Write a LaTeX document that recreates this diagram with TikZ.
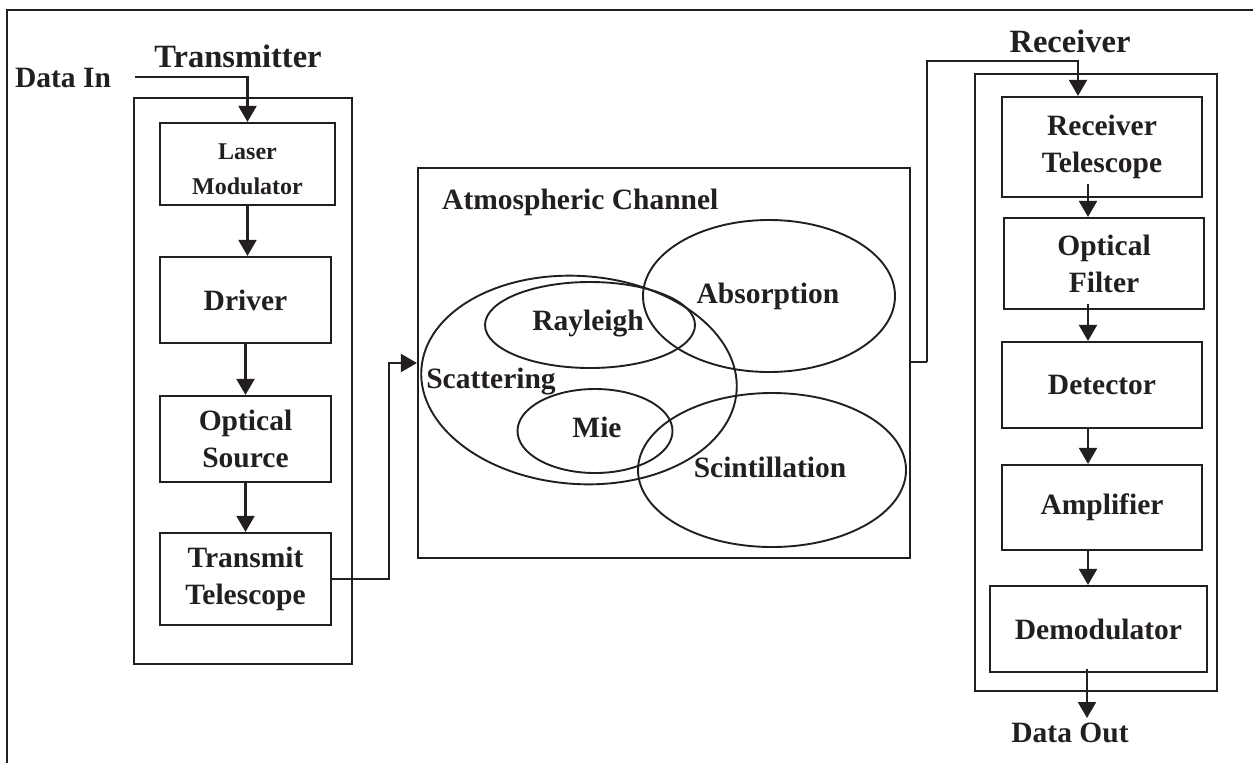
\documentclass[tikz,border=0pt]{standalone}
\usepackage{fontspec}
\setmainfont{Liberation Serif}
\usetikzlibrary{shapes.geometric,arrows.meta,calc}
\definecolor{ink}{RGB}{35,31,32}
\newcommand{\lblfont}{\fontsize{29.5}{37}\selectfont\bfseries}
\newcommand{\ttlfont}{\fontsize{32.5}{37}\selectfont\bfseries}
\newcommand{\smlfont}{\fontsize{24}{35}\selectfont\bfseries}
\begin{document}
\begin{tikzpicture}[x=1pt,y=-1pt,
  every node/.style={text=ink},
  blk/.style={draw=ink, line width=2.2pt, align=center, inner sep=0pt, font=\lblfont},
  grp/.style={draw=ink, line width=2.2pt, inner sep=0pt},
  elp/.style={draw=ink, line width=1.9pt, ellipse, inner sep=0pt},
  lbl/.style={font=\lblfont, anchor=base, inner sep=0pt},
  ttl/.style={font=\ttlfont, anchor=base, inner sep=0pt},
  wire/.style={draw=ink, line width=2.2pt},
  arr/.style={draw=ink, line width=2.2pt, -{Triangle[width=18pt,length=16pt]}}]
\useasboundingbox (0,0) rectangle (1253,763);
% outer frame (left and top edges visible)
\draw[wire] (7,763) -- (7,10) -- (1253,10);

% ---------- Transmitter ----------
\node[grp, minimum width=218pt, minimum height=566pt] (txg) at (243,381) {};
\node[ttl] (txt) at (238,67) {Transmitter};
\node[lbl] (din) at (63,87) {Data In};
\coordinate (dinw) at (135,77);
\node[blk, font=\smlfont, minimum width=175pt, minimum height=82pt] (laser) at (247.5,164) {};
\node[font=\smlfont, anchor=base, inner sep=0pt] (laser1) at (247.5,159) {Laser};
\node[font=\smlfont, anchor=base, inner sep=0pt] (laser2) at (247.5,194) {Modulator};
\node[blk, minimum width=171pt, minimum height=86pt] (drv) at (245.5,300) {Driver};
\node[blk, minimum width=171pt, minimum height=86pt] (src) at (245.5,439) {Optical\\Source};
\node[blk, minimum width=171pt, minimum height=92pt] (ttel) at (245.5,579) {Transmit\\Telescope};

\draw[arr] (dinw) -| (laser.north);
\draw[arr] (laser.south) -- (laser.south |- drv.north);
\draw[arr] (drv.south) -- (drv.south |- src.north);
\draw[arr] (src.south) -- (src.south |- ttel.north);

% ---------- Atmospheric channel ----------
\node[grp, minimum width=492pt, minimum height=390pt] (atm) at (664,363) {};
\node[lbl, anchor=base west] (atmt) at (442,209) {Atmospheric Channel};
\node[elp, minimum width=316pt, minimum height=208pt, rotate=-4] (scat) at (579,380) {};
\node[elp, minimum width=210pt, minimum height=86pt] (ray) at (590,325) {};
\node[elp, minimum width=155pt, minimum height=84pt] (mie) at (595,431) {};
\node[elp, minimum width=252pt, minimum height=152pt] (abs) at (769,296) {};
\node[elp, minimum width=268pt, minimum height=154pt] (scin) at (772,470) {};
\node[lbl] (absl) at (768,303) {Absorption};
\node[lbl] (rayl) at (588,330) {Rayleigh};
\node[lbl] (scatl) at (491,388) {Scattering};
\node[lbl] (miel) at (597,437) {Mie};
\node[lbl] (scinl) at (770,477) {Scintillation};

\coordinate (tx1) at (389,579);
\draw[arr] (ttel.east) -- (tx1) |- (atm.west);

% ---------- Receiver ----------
\node[grp, minimum width=242pt, minimum height=617pt] (rxg) at (1096,382.5) {};
\node[ttl] (rxt) at (1070,52) {Receiver};
\node[blk, minimum width=200pt, minimum height=100pt] (rtel) at (1102,147) {Receiver\\Telescope};
\node[blk, minimum width=200pt, minimum height=91pt] (flt) at (1104,263.5) {Optical\\Filter};
\node[blk, minimum width=200pt, minimum height=86pt] (det) at (1102,385) {Detector};
\node[blk, minimum width=200pt, minimum height=85pt] (amp) at (1102,507.5) {Amplifier};
\node[blk, minimum width=217pt, minimum height=86pt] (dem) at (1098.5,629) {Demodulator};
\node[lbl] (dout) at (1070,742) {Data Out};
\coordinate (rx1) at (927,362);
\coordinate (rx2) at (927,61);
\coordinate (rx3) at (1078,61);
\coordinate (doutn) at (1087,718);
\path ($(rtel.south)+(-14,-14)$) coordinate (a1)
      ($(flt.south)+(-16,-6)$) coordinate (a2)
      ($(det.south)+(-14,0)$) coordinate (a3)
      ($(amp.south)+(-14,0)$) coordinate (a4)
      ($(dem.south)+(-11.5,-4)$) coordinate (a5);

\draw[wire] (atm.east |- rx1) -- (rx1);
\draw[arr] (rx1) -- (rx2) -- (rx3) -- (rx3 |- rtel.north);
\draw[arr] (a1) -- (a1 |- flt.north);
\draw[arr] (a2) -- (a2 |- det.north);
\draw[arr] (a3) -- (a3 |- amp.north);
\draw[arr] (a4) -- (a4 |- dem.north);
\draw[arr] (a5) -- (doutn);
\end{tikzpicture}
\end{document}
